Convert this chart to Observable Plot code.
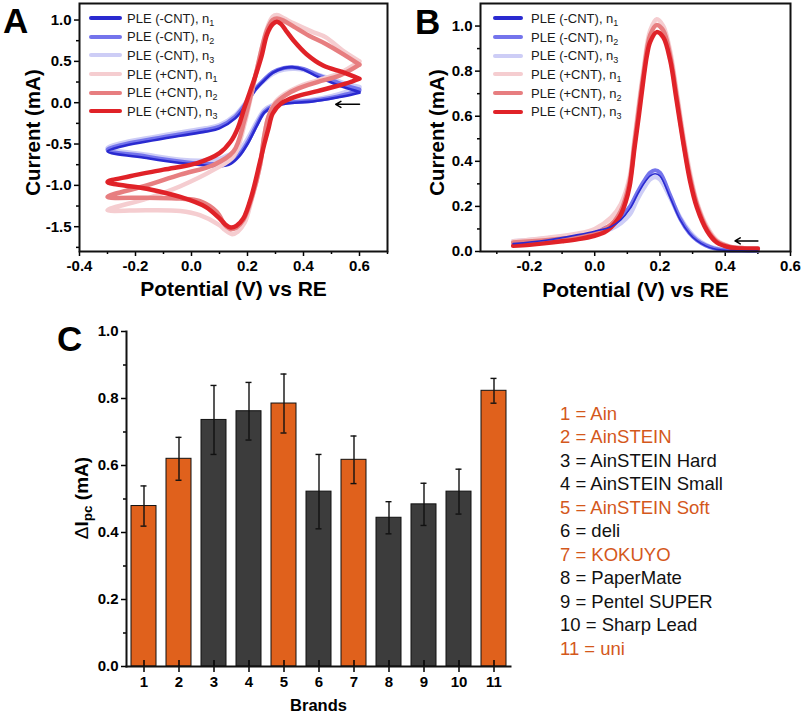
<!DOCTYPE html>
<html><head><meta charset="utf-8">
<script src="https://cdn.jsdelivr.net/npm/d3@7"></script>
<script src="https://cdn.jsdelivr.net/npm/@observablehq/plot@0.6"></script>
<style>
body{margin:0;background:#fff;font-family:"Liberation Sans",Arial,sans-serif;}
#root{position:relative;width:803px;height:713px;overflow:hidden;}
.abs{position:absolute;}
.letter{position:absolute;font-weight:bold;font-size:35px;line-height:35px;color:#000;}
.leg{position:absolute;font-size:13px;color:#1a1a1a;}
.leg .row{height:18.7px;display:flex;align-items:center;white-space:nowrap;}
.leg .sw{display:inline-block;height:4px;border-radius:2px;}
.leg sub{font-size:9px;vertical-align:-3px;line-height:0;}
#legC{position:absolute;left:560px;top:401.5px;font-size:18.5px;line-height:23.5px;white-space:nowrap;}
#ytC{position:absolute;left:82px;top:498px;transform:translate(-50%,-50%) rotate(-90deg);font-size:19px;font-weight:bold;white-space:nowrap;color:#000;}
#ytC sub{font-size:13.5px;vertical-align:-4px;line-height:0;}
</style></head>
<body><div id="root"></div>
<script>
// ---------- data ----------
const seriesNames = ["PLE (-CNT), n1","PLE (-CNT), n2","PLE (-CNT), n3","PLE (+CNT), n1","PLE (+CNT), n2","PLE (+CNT), n3"];
const seriesColors = ["#2a2ad0","#7474ec","#cdcdf6","#f5cdd0","#e77e80","#e02228"];

// Panel A: cyclic voltammograms [potential V, current mA]
const cvMinusN1 = [[0.60,0.12],[0.55,0.08],[0.50,0.05],[0.42,0.01],[0.34,-0.01],[0.29,-0.05],[0.26,-0.12],[0.235,-0.27],[0.20,-0.50],[0.17,-0.65],[0.14,-0.74],[0.10,-0.77],[0.05,-0.76],[-0.04,-0.73],[-0.16,-0.67],[-0.30,-0.59],[-0.25,-0.53],[-0.16,-0.47],[-0.04,-0.40],[0.05,-0.35],[0.10,-0.31],[0.156,-0.19],[0.20,0.00],[0.227,0.15],[0.26,0.27],[0.29,0.36],[0.33,0.42],[0.36,0.43],[0.40,0.40],[0.44,0.33],[0.51,0.23],[0.55,0.18],[0.60,0.13]];
const cvMinusN2 = [[0.60,0.15],[0.55,0.10],[0.50,0.06],[0.42,0.02],[0.34,0.00],[0.29,-0.04],[0.26,-0.11],[0.235,-0.25],[0.20,-0.48],[0.17,-0.63],[0.14,-0.71],[0.10,-0.74],[0.05,-0.74],[-0.04,-0.71],[-0.16,-0.65],[-0.30,-0.57],[-0.25,-0.51],[-0.16,-0.45],[-0.04,-0.38],[0.05,-0.33],[0.10,-0.29],[0.156,-0.17],[0.20,0.02],[0.227,0.16],[0.26,0.28],[0.29,0.37],[0.33,0.42],[0.36,0.43],[0.40,0.41],[0.44,0.35],[0.51,0.26],[0.55,0.21],[0.60,0.16]];
const cvMinusN3 = [[0.60,0.19],[0.55,0.13],[0.50,0.08],[0.42,0.03],[0.34,0.01],[0.29,-0.03],[0.26,-0.09],[0.235,-0.22],[0.20,-0.44],[0.17,-0.58],[0.14,-0.62],[0.10,-0.68],[0.05,-0.70],[-0.04,-0.69],[-0.16,-0.63],[-0.30,-0.55],[-0.25,-0.49],[-0.16,-0.43],[-0.04,-0.36],[0.05,-0.31],[0.10,-0.27],[0.156,-0.15],[0.20,0.03],[0.227,0.16],[0.26,0.27],[0.29,0.35],[0.33,0.40],[0.37,0.41],[0.41,0.39],[0.45,0.34],[0.51,0.28],[0.55,0.23],[0.60,0.19]];
const cvPlusN1 = [[0.60,0.50],[0.53,0.36],[0.45,0.27],[0.38,0.19],[0.335,0.11],[0.30,0.01],[0.275,-0.17],[0.26,-0.40],[0.245,-0.75],[0.215,-1.17],[0.19,-1.45],[0.165,-1.56],[0.145,-1.59],[0.12,-1.54],[0.10,-1.48],[0.03,-1.36],[-0.04,-1.31],[-0.16,-1.30],[-0.30,-1.30],[-0.16,-1.16],[-0.04,-1.01],[0.08,-0.81],[0.15,-0.65],[0.19,-0.25],[0.23,0.35],[0.27,0.90],[0.29,1.04],[0.305,1.06],[0.33,1.02],[0.365,0.96],[0.43,0.86],[0.48,0.79],[0.54,0.63],[0.60,0.50]];
const cvPlusN2 = [[0.60,0.46],[0.53,0.33],[0.45,0.25],[0.38,0.17],[0.335,0.09],[0.30,-0.01],[0.275,-0.17],[0.26,-0.40],[0.245,-0.75],[0.215,-1.15],[0.185,-1.42],[0.16,-1.51],[0.14,-1.53],[0.12,-1.48],[0.09,-1.32],[0.03,-1.19],[-0.04,-1.16],[-0.16,-1.15],[-0.30,-1.14],[-0.16,-1.00],[-0.04,-0.87],[0.08,-0.75],[0.15,-0.59],[0.19,-0.20],[0.23,0.35],[0.27,0.88],[0.29,1.00],[0.305,1.02],[0.33,0.99],[0.365,0.92],[0.42,0.81],[0.48,0.71],[0.54,0.59],[0.60,0.46]];
const cvPlusN3 = [[0.60,0.29],[0.55,0.23],[0.45,0.14],[0.37,0.07],[0.32,-0.01],[0.29,-0.13],[0.275,-0.31],[0.26,-0.50],[0.245,-0.71],[0.215,-1.12],[0.185,-1.40],[0.16,-1.49],[0.14,-1.51],[0.12,-1.47],[0.10,-1.40],[0.05,-1.26],[-0.04,-1.14],[-0.16,-1.04],[-0.30,-0.96],[-0.22,-0.89],[-0.10,-0.81],[0.02,-0.73],[0.10,-0.61],[0.14,-0.47],[0.165,-0.31],[0.19,-0.05],[0.227,0.31],[0.25,0.56],[0.27,0.83],[0.29,0.95],[0.305,0.98],[0.32,0.95],[0.34,0.86],[0.365,0.75],[0.41,0.59],[0.47,0.45],[0.54,0.37],[0.60,0.29]];

// Panel B: differential pulse voltammograms [potential V, current mA]
const dpvMinusN1 = [[-0.25,0.035],[-0.15,0.05],[-0.05,0.075],[0.0,0.09],[0.05,0.11],[0.08,0.14],[0.108,0.19],[0.13,0.25],[0.15,0.30],[0.17,0.335],[0.185,0.345],[0.20,0.335],[0.231,0.24],[0.262,0.14],[0.29,0.08],[0.313,0.048],[0.34,0.025],[0.365,0.012],[0.40,0.005],[0.45,0.003],[0.50,0.002]];
const dpvMinusN2 = [[-0.25,0.04],[-0.15,0.055],[-0.05,0.078],[0.0,0.092],[0.05,0.115],[0.08,0.15],[0.108,0.20],[0.13,0.26],[0.15,0.31],[0.17,0.35],[0.185,0.36],[0.20,0.35],[0.231,0.25],[0.262,0.145],[0.29,0.082],[0.313,0.05],[0.34,0.027],[0.365,0.014],[0.40,0.006],[0.45,0.004],[0.50,0.003]];
const dpvMinusN3 = [[-0.25,0.045],[-0.15,0.058],[-0.05,0.075],[0.0,0.085],[0.05,0.10],[0.08,0.125],[0.108,0.165],[0.13,0.23],[0.15,0.28],[0.17,0.32],[0.185,0.33],[0.20,0.32],[0.231,0.24],[0.262,0.15],[0.29,0.09],[0.313,0.055],[0.34,0.03],[0.365,0.016],[0.40,0.007],[0.45,0.004],[0.50,0.003]];
const dpvPlusN1 = [[-0.25,0.045],[-0.15,0.06],[-0.05,0.08],[0.0,0.10],[0.05,0.15],[0.08,0.21],[0.107,0.33],[0.122,0.50],[0.149,0.80],[0.17,0.98],[0.19,1.03],[0.21,1.00],[0.231,0.89],[0.251,0.71],[0.272,0.51],[0.292,0.35],[0.313,0.22],[0.344,0.11],[0.374,0.05],[0.415,0.022],[0.45,0.016],[0.50,0.014]];
const dpvPlusN2 = [[-0.25,0.04],[-0.15,0.05],[-0.05,0.065],[0.0,0.08],[0.05,0.12],[0.08,0.18],[0.107,0.31],[0.122,0.48],[0.149,0.78],[0.17,0.96],[0.19,1.005],[0.21,0.98],[0.231,0.87],[0.251,0.69],[0.272,0.49],[0.292,0.33],[0.313,0.21],[0.344,0.10],[0.374,0.045],[0.415,0.02],[0.45,0.015],[0.50,0.013]];
const dpvPlusN3 = [[-0.25,0.025],[-0.20,0.03],[-0.155,0.036],[-0.10,0.045],[-0.05,0.055],[0.0,0.07],[0.03,0.085],[0.05,0.107],[0.07,0.14],[0.081,0.166],[0.095,0.22],[0.107,0.29],[0.122,0.46],[0.135,0.60],[0.149,0.76],[0.16,0.87],[0.17,0.93],[0.19,0.973],[0.21,0.95],[0.231,0.85],[0.251,0.67],[0.272,0.477],[0.292,0.314],[0.313,0.196],[0.344,0.092],[0.374,0.04],[0.415,0.018],[0.45,0.013],[0.50,0.012]];

// scan-direction arrows
const arrowA = [{x1:0.60,y1:-0.02,x2:0.515,y2:-0.02}];
const arrowB = [{x1:0.50,y1:0.047,x2:0.43,y2:0.047}];

// ticks
const xTicksA = [-0.4,-0.2,0.0,0.2,0.4,0.6];
const xMinorA = [-0.3,-0.1,0.1,0.3,0.5,0.7];
const yTicksA = [-1.5,-1.0,-0.5,0.0,0.5,1.0];
const yMinorA = [-1.75,-1.25,-0.75,-0.25,0.25,0.75];
const xTicksB = [-0.2,0.0,0.2,0.4,0.6];
const xMinorB = [-0.3,-0.1,0.1,0.3,0.5];
const yTicksB = [0.0,0.2,0.4,0.6,0.8,1.0];
const yMinorB = [0.1,0.3,0.5,0.7,0.9];

// Panel C
const brands = [1,2,3,4,5,6,7,8,9,10,11];
const brandNames = ["Ain","AinSTEIN","AinSTEIN Hard","AinSTEIN Small","AinSTEIN Soft","deli","KOKUYO","PaperMate","Pentel SUPER","Sharp Lead","uni"];
const deltaIpc = [0.479,0.620,0.736,0.762,0.785,0.522,0.617,0.444,0.484,0.522,0.823];
const deltaErr = [0.060,0.064,0.103,0.086,0.088,0.111,0.071,0.048,0.063,0.067,0.037];
const highlighted = [1,2,5,7,11];
const yTicksC = [0.0,0.2,0.4,0.6,0.8,1.0];
const yMinorC = [0.1,0.3,0.5,0.7,0.9];

// ---------- drawing ----------
const root = document.getElementById("root");
const fmt1 = d => d.toFixed(1);
const FONT = '"Liberation Sans", Arial, sans-serif';
const ORANGE = "#e0611c", DARK = "#3c3c3c", ORANGE_TEXT = "#d4581c";

function place(node, left, top) {
  const d = document.createElement("div");
  d.className = "abs"; d.style.left = left + "px"; d.style.top = top + "px";
  d.appendChild(node); root.appendChild(d);
}
function seriesLine(data, i, widths) {
  return Plot.line(data, {x: d => d[0], y: d => d[1], stroke: seriesColors[i], strokeWidth: widths[i], curve: "catmull-rom", strokeLinejoin: "round", strokeLinecap: "round"});
}
function axesFor(xT, xM, yT, yM) {
  return [
    Plot.axisX({ticks: xM, tickSize: 3, tickFormat: () => "", strokeWidth: 1.5}),
    Plot.axisX({ticks: xT, tickSize: 5, tickPadding: 4, tickFormat: fmt1, fontSize: 15, fontWeight: "bold", strokeWidth: 1.5}),
    Plot.axisY({ticks: yM, tickSize: 3, tickFormat: () => "", strokeWidth: 1.5}),
    Plot.axisY({ticks: yT, tickSize: 5, tickPadding: 3, tickFormat: fmt1, fontSize: 15, fontWeight: "bold", strokeWidth: 1.5})
  ];
}
function titles(xdy, ydx) {
  return [
    Plot.text(["Potential (V) vs RE"], {text: d => d, frameAnchor: "bottom", dy: xdy, textAnchor: "middle", lineAnchor: "middle", fontSize: 21, fontWeight: "bold"}),
    Plot.text(["Current (mA)"], {text: d => d, frameAnchor: "left", dx: ydx, dy: 5, rotate: -90, textAnchor: "middle", lineAnchor: "middle", fontSize: 20.5, fontWeight: "bold"})
  ];
}

// Panel A
const cvAll = [cvMinusN1, cvMinusN2, cvMinusN3, cvPlusN1, cvPlusN2, cvPlusN3];
const widthsA = [2.6, 4, 4.5, 4.5, 4.5, 4.5];
const plotA = Plot.plot({
  width: 400, height: 310, marginLeft: 79, marginRight: 13, marginTop: 3, marginBottom: 59,
  x: {domain: [-0.4, 0.7], label: null},
  y: {domain: [-1.8, 1.2], label: null},
  style: {fontFamily: FONT, fontWeight: "bold", color: "#000", background: "transparent", overflow: "visible"},
  marks: [
    ...axesFor(xTicksA, xMinorA, yTicksA, yMinorA),
    ...[2,1,0,3,4,5].map(i => seriesLine(cvAll[i], i, widthsA)),
    Plot.arrow(arrowA, {x1: "x1", y1: "y1", x2: "x2", y2: "y2", stroke: "#000", strokeWidth: 1.5, headLength: 6}),
    Plot.frame({stroke: "#111", strokeWidth: 2}),
    ...titles(38, -46)
  ]
});
place(plotA, 0, 0);

// Panel B
const dpvAll = [dpvMinusN1, dpvMinusN2, dpvMinusN3, dpvPlusN1, dpvPlusN2, dpvPlusN3];
const widthsB = [1.6, 4, 4.5, 4.5, 4.5, 4.5];
const plotB = Plot.plot({
  width: 403, height: 310, marginLeft: 80, marginRight: 13, marginTop: 3, marginBottom: 59,
  x: {domain: [-0.35, 0.6], label: null},
  y: {domain: [0, 1.1], label: null},
  style: {fontFamily: FONT, fontWeight: "bold", color: "#000", background: "transparent", overflow: "visible"},
  marks: [
    ...axesFor(xTicksB, xMinorB, yTicksB, yMinorB),
    ...[2,1,3,4,5,0].map(i => seriesLine(dpvAll[i], i, widthsB)),
    Plot.arrow(arrowB, {x1: "x1", y1: "y1", x2: "x2", y2: "y2", stroke: "#000", strokeWidth: 1.5, headLength: 6}),
    Plot.frame({stroke: "#111", strokeWidth: 2}),
    ...titles(39, -43)
  ]
});
place(plotB, 400, 0);

// Legends A & B
function legend(left, top, lineW, gap) {
  const el = document.createElement("div");
  el.className = "leg"; el.style.left = left + "px"; el.style.top = top + "px";
  seriesNames.forEach((name, i) => {
    const row = document.createElement("div"); row.className = "row";
    const sw = document.createElement("span"); sw.className = "sw";
    sw.style.width = lineW + "px"; sw.style.background = seriesColors[i]; sw.style.marginRight = gap + "px";
    const tx = document.createElement("span");
    const base = name.slice(0, -1), sub = name.slice(-1);
    tx.innerHTML = base + "<sub>" + sub + "</sub>";
    row.appendChild(sw); row.appendChild(tx); el.appendChild(row);
  });
  root.appendChild(el);
}
legend(89, 8.7, 33, 5);
legend(493, 9, 30, 8);

// Panel C
const barData = brands.map((b, i) => ({brand: b, value: deltaIpc[i], err: deltaErr[i], hi: highlighted.includes(b)}));
const plotC = Plot.plot({
  width: 530, height: 393, marginLeft: 126, marginRight: 20, marginTop: 11, marginBottom: 47,
  x: {type: "band", domain: brands, paddingInner: 0.29, paddingOuter: 0.12, label: null},
  y: {domain: [0, 1], label: null},
  style: {fontFamily: FONT, fontWeight: "bold", color: "#000", background: "transparent", overflow: "visible"},
  marks: [
    Plot.barY(barData, {x: "brand", y: "value", fill: d => d.hi ? ORANGE : DARK, stroke: "#111", strokeWidth: 1}),
    Plot.ruleX(barData, {x: "brand", y1: d => d.value - d.err, y2: d => d.value + d.err, stroke: "#111", strokeWidth: 1.4}),
    Plot.tickY(barData, {x: "brand", y: d => d.value + d.err, insetLeft: 9.5, insetRight: 9.5, stroke: "#111", strokeWidth: 1.4}),
    Plot.tickY(barData, {x: "brand", y: d => d.value - d.err, insetLeft: 9.5, insetRight: 9.5, stroke: "#111", strokeWidth: 1.4}),
    Plot.axisY({ticks: yMinorC, tickSize: 3, tickFormat: () => "", strokeWidth: 1.5}),
    Plot.axisY({ticks: yTicksC, tickSize: 5, tickPadding: 3, tickFormat: fmt1, fontSize: 15, fontWeight: "bold", strokeWidth: 1.5}),
    Plot.axisX({tickSize: 12, dy: -6, tickFormat: () => "", strokeWidth: 1.5}),
    Plot.axisX({tickSize: 0, tickPadding: 10, fontSize: 15, fontWeight: "bold"}),
    Plot.frame({anchor: "left", stroke: "#111", strokeWidth: 2}),
    Plot.frame({anchor: "bottom", stroke: "#111", strokeWidth: 2}),
    Plot.text(["Brands"], {text: d => d, frameAnchor: "bottom", dy: 39, textAnchor: "middle", lineAnchor: "middle", fontSize: 16.5, fontWeight: "bold"})
  ]
});
place(plotC, 0, 320);

// y title C (with subscript)
const yt = document.createElement("div"); yt.id = "ytC";
yt.innerHTML = '<span style="font-weight:normal">Δ</span>I<sub>pc</sub> (mA)';
root.appendChild(yt);

// legend C
const lc = document.createElement("div"); lc.id = "legC";
brands.forEach((b, i) => {
  const r = document.createElement("div");
  r.textContent = b + " = " + brandNames[i];
  r.style.color = highlighted.includes(b) ? ORANGE_TEXT : "#111";
  lc.appendChild(r);
});
root.appendChild(lc);

// panel letters
[["A", 3, 3], ["B", 415, 4], ["C", 57, 321]].forEach(([t, l, tp]) => {
  const e = document.createElement("div"); e.className = "letter";
  e.textContent = t; e.style.left = l + "px"; e.style.top = tp + "px";
  root.appendChild(e);
});
</script>
</body></html>
